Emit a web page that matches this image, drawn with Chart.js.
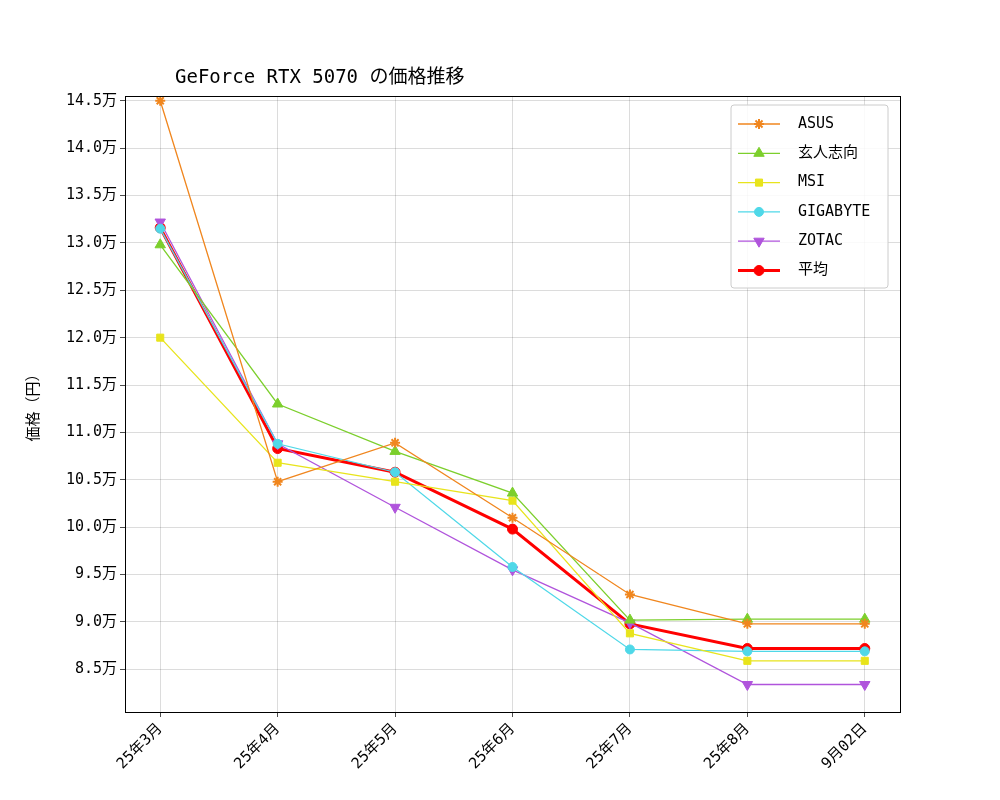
<!DOCTYPE html>
<html>
<head>
<meta charset="utf-8">
<script src="https://cdn.jsdelivr.net/npm/chart.js@4"></script>
<style>body{margin:0;background:#fff}</style>
</head>
<body>
<canvas id="c" width="1000" height="800"></canvas>
<script>
const FONT = '"DejaVu Sans Mono", "Noto Sans CJK JP", monospace';
const categories = ['25年3月', '25年4月', '25年5月', '25年6月', '25年7月', '25年8月', '9月02日'];
const asus = [14.5, 10.48, 10.89, 10.1, 9.29, 8.98, 8.98];
const kuroushiko = [12.98, 11.3, 10.8, 10.36, 9.02, 9.03, 9.03];
const msi = [12.0, 10.68, 10.48, 10.28, 8.88, 8.59, 8.59];
const gigabyte = [13.15, 10.88, 10.58, 9.58, 8.71, 8.69, 8.69];
const zotac = [13.22, 10.88, 10.21, 9.55, 8.99, 8.34, 8.34];
const average = [13.16, 10.83, 10.58, 9.98, 8.98, 8.72, 8.72];
const yTicks = [8.5, 9.0, 9.5, 10.0, 10.5, 11.0, 11.5, 12.0, 12.5, 13.0, 13.5, 14.0, 14.5];

Chart.defaults.font.family = FONT;
Chart.defaults.font.size = 15;
Chart.defaults.color = '#000';

function series(label, values, color, style, size, width) {
  return {
    label, data: values.map((v, i) => ({ x: i, y: v })),
    borderColor: color, backgroundColor: color, pointStyle: style,
    pointRadius: size, borderWidth: width, pointBorderWidth: 1, tension: 0
  };
}
const datasets = [
  series('ASUS', asus, '#f0861e', 'star', 5, 1.3),
  series('玄人志向', kuroushiko, '#7ccf2c', 'triangle', 6, 1.3),
  series('MSI', msi, '#e8e41c', 'rect', 5, 1.3),
  series('GIGABYTE', gigabyte, '#4fd8e8', 'circle', 4.5, 1.3),
  series('ZOTAC', zotac, '#b054dc', 'triangle', 6, 1.3),
  series('平均', average, '#ff0000', 'circle', 5, 3)
];
datasets[4].pointRotation = 180;
datasets[0].pointBorderWidth = 2;

const extras = {
  id: 'extras',
  afterDraw(chart) {
    const ctx = chart.ctx;
    const a = chart.chartArea;
    ctx.save();
    ctx.strokeStyle = '#000'; ctx.lineWidth = 1;
    ctx.strokeRect(a.left + 0.5, a.top + 0.5, a.right - a.left, a.bottom - a.top);
    ctx.font = '19px ' + FONT; ctx.fillStyle = '#000'; ctx.textBaseline = 'alphabetic';
    ctx.fillText('GeForce RTX 5070 の価格推移', 175, 83);
    ctx.save();
    ctx.translate(34, 404); ctx.rotate(-Math.PI / 2);
    ctx.font = '15px ' + FONT; ctx.textAlign = 'center'; ctx.textBaseline = 'middle';
    ctx.fillText('価格（円）', 0, 0);
    ctx.restore();
    // legend
    const lx = 731, ly = 105, lw = 157, lh = 183;
    ctx.fillStyle = 'rgba(255,255,255,0.85)';
    ctx.strokeStyle = '#ccc';
    ctx.beginPath(); ctx.roundRect(lx, ly, lw, lh, 3); ctx.fill(); ctx.stroke();
    ctx.font = '15px ' + FONT; ctx.textBaseline = 'middle';
    datasets.forEach((d, i) => {
      const y = 124 + i * 29.3;
      ctx.strokeStyle = d.borderColor; ctx.lineWidth = d.borderWidth;
      ctx.beginPath(); ctx.moveTo(738, y); ctx.lineTo(780, y); ctx.stroke();
      ctx.fillStyle = d.borderColor; ctx.lineWidth = d.pointBorderWidth;
      Chart.helpers.drawPoint(ctx, { pointStyle: d.pointStyle, radius: d.pointRadius, rotation: d.pointRotation || 0, borderWidth: d.pointBorderWidth }, 759, y);
      ctx.fillStyle = '#000';
      ctx.fillText(d.label, 798, y);
    });
    ctx.restore();
  }
};

const gridOpts = { color: 'rgba(0,0,0,0.2)', lineWidth: 0.7, tickColor: '#000', tickLength: 5 };

new Chart(document.getElementById('c'), {
  type: 'line',
  data: { datasets },
  options: {
    responsive: false, animation: false,
    layout: { padding: { top: 96, right: 100, left: 0, bottom: 0 } },
    plugins: { legend: { display: false }, tooltip: { enabled: false } },
    scales: {
      x: {
        type: 'linear', min: -0.3, max: 6.3,
        afterFit: s => { s.height = 88; },
        afterBuildTicks: s => { s.ticks = categories.map((c, i) => ({ value: i })); },
        ticks: { callback: v => categories[v], maxRotation: 45, minRotation: 45, font: { size: 15 } },
        grid: gridOpts,
        border: { color: '#000' }
      },
      y: {
        min: 8.05, max: 14.55,
        afterFit: s => { s.width = 125; },
        afterBuildTicks: s => { s.ticks = yTicks.map(v => ({ value: v })); },
        ticks: { callback: v => v.toFixed(1) + '万', font: { size: 15 } },
        grid: gridOpts,
        border: { color: '#000', dash: [] }
      }
    }
  },
  plugins: [extras]
});
</script>
</body>
</html>
